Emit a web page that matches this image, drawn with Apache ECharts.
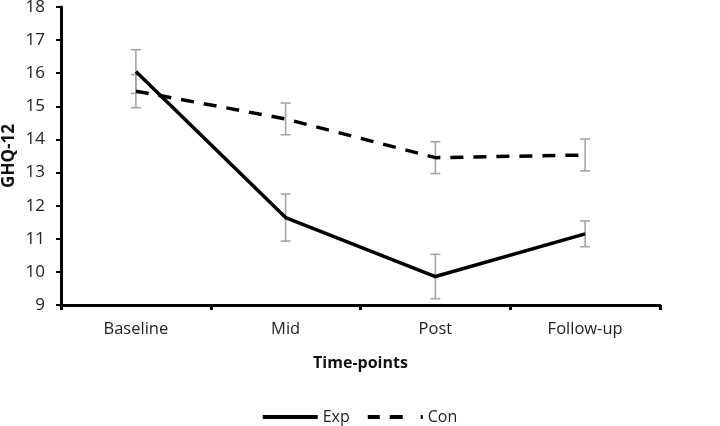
<!DOCTYPE html>
<html>
<head>
<meta charset="utf-8">
<script src="https://cdn.jsdelivr.net/npm/echarts@6/dist/echarts.min.js"></script>
<style>
  html, body { margin: 0; padding: 0; background: #fff; }
  #chart { width: 720px; height: 426px; }
</style>
</head>
<body>
<div id="chart"></div>
<script>
// data
const timePoints = ['Baseline', 'Mid', 'Post', 'Follow-up']
const expMean = [16.05, 11.64, 9.86, 11.15]
const expErr = [0.66, 0.71, 0.67, 0.39]
const conMean = [15.46, 14.62, 13.45, 13.53]
const conErr = [0.5, 0.48, 0.48, 0.48]

const font = 'Open Sans'

const errData = (mean, err) => mean.map((m, i) => [i, m - err[i], m + err[i]])

const renderErr = (params, api) => {
  const lo = api.coord([api.value(0), api.value(1)])
  const hi = api.coord([api.value(0), api.value(2)])
  const cap = 5
  const style = { stroke: '#a6a6a6', lineWidth: 1.6 }
  return {
    type: 'group',
    children: [
      { type: 'line', shape: { x1: lo[0], y1: lo[1], x2: hi[0], y2: hi[1] }, style },
      { type: 'line', shape: { x1: lo[0] - cap, y1: lo[1], x2: lo[0] + cap, y2: lo[1] }, style },
      { type: 'line', shape: { x1: hi[0] - cap, y1: hi[1], x2: hi[0] + cap, y2: hi[1] }, style }
    ]
  }
}

const myChart = echarts.init(document.getElementById('chart'))
myChart.setOption({
  animation: false,
  textStyle: { fontFamily: font },
  grid: { left: 61, right: 60, top: 7, bottom: 121, outerBoundsMode: 'none', containLabel: false },
  legend: {
    top: 404,
    left: 'center',
    itemWidth: 55,
    itemHeight: 4,
    itemGap: 18,
    symbolKeepAspect: false,
    data: [
      { name: 'Exp', icon: 'rect' },
      { name: 'Con', icon: 'path://M0,0h12v3h-12z M22,0h13v3h-13z M53,0h2v3h-2z' }
    ],
    textStyle: { fontFamily: font, fontSize: 16, color: '#222' }
  },
  xAxis: {
    type: 'category',
    data: timePoints,
    boundaryGap: true,
    name: 'Time-points',
    nameLocation: 'middle',
    nameGap: 50,
    nameMoveOverlap: false,
    nameTextStyle: { fontFamily: font, fontSize: 16, fontWeight: 'bold', color: '#111' },
    axisLine: { lineStyle: { color: '#000', width: 3 } },
    axisTick: { show: true, length: 5, lineStyle: { color: '#000', width: 3 } },
    axisLabel: { fontFamily: font, fontSize: 16.5, color: '#222', margin: 16 },
    splitLine: { show: false }
  },
  yAxis: {
    type: 'value',
    min: 9,
    max: 18,
    interval: 1,
    name: 'GHQ-12',
    nameLocation: 'middle',
    nameGap: 43,
    nameMoveOverlap: false,
    nameRotate: 90,
    nameTextStyle: { fontFamily: font, fontSize: 17, fontWeight: 'bold', color: '#111' },
    axisLine: { show: true, lineStyle: { color: '#000', width: 3 } },
    axisTick: { show: true, length: 5, lineStyle: { color: '#000', width: 2 } },
    axisLabel: { fontFamily: font, fontSize: 17, color: '#222', margin: 16 },
    splitLine: { show: false }
  },
  series: [
    {
      name: 'expErr',
      type: 'custom',
      renderItem: renderErr,
      data: errData(expMean, expErr),
      z: 1,
      silent: true
    },
    {
      name: 'conErr',
      type: 'custom',
      renderItem: renderErr,
      data: errData(conMean, conErr),
      z: 1,
      silent: true
    },
    {
      name: 'Exp',
      type: 'line',
      data: expMean,
      symbol: 'none',
      z: 3,
      lineStyle: { color: '#000', width: 3.5 },
      itemStyle: { color: '#000' }
    },
    {
      name: 'Con',
      type: 'line',
      data: conMean,
      symbol: 'none',
      z: 3,
      lineStyle: { color: '#000', width: 3.5, type: [13, 10] },
      itemStyle: { color: '#000' }
    }
  ]
})
</script>
</body>
</html>
